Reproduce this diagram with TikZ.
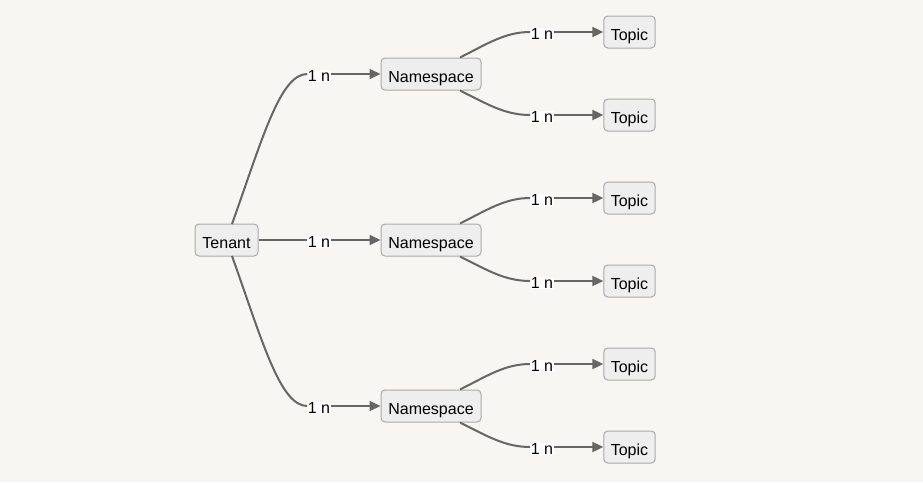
\documentclass[tikz,border=0pt]{standalone}
\usepackage{fontspec}
\setmainfont{Liberation Sans}
\usetikzlibrary{arrows.meta}
\definecolor{bg}{HTML}{F7F6F2}
\definecolor{boxfill}{HTML}{EEEEEE}
\definecolor{boxline}{HTML}{AAAAAA}
\definecolor{edge}{HTML}{666666}
\tikzset{
  box/.style={draw=boxline, fill=boxfill, rounded corners=4pt, line width=1pt,
    minimum height=32pt, inner xsep=7pt, inner ysep=0pt, font=\fontsize{16}{16}\selectfont, text depth=0pt, text height=17.5pt},
  lbl/.style={fill=white, inner sep=0.5pt, font=\fontsize{16}{16}\selectfont},
  conn/.style={draw=edge, line width=2pt},
  arr/.style={conn, -{Triangle[length=11pt,width=10pt]}},
}
\begin{document}
\begin{tikzpicture}[x=1pt,y=-1pt]
\fill[bg] (0,0) rectangle (923,482);
\useasboundingbox (0,0) rectangle (923,482);
% nodes
\node[box, minimum width=63pt] (t) at (226.5,240) {Tenant};
\node[box, minimum width=100pt] (n1) at (431,74) {Namespace};
\node[box, minimum width=100pt] (n2) at (431,240) {Namespace};
\node[box, minimum width=100pt] (n3) at (431,406) {Namespace};
\foreach \i/\y in {1/32,2/115,3/198,4/281,5/364,6/447}{
  \node[box, minimum width=51pt] (p\i) at (629.5,\y) {Topic};
}
% labels tenant->namespace
\node[lbl] (l1) at (319,76) {1 n};
\node[lbl] (l2) at (319,242) {1 n};
\node[lbl] (l3) at (319,408) {1 n};
% labels namespace->topic
\foreach \i/\y in {1/34,2/117,3/200,4/283,5/366,6/449}{
  \node[lbl] (m\i) at (542,\y) {1 n};
}
% tenant connectors
\coordinate (ta) at (232,224);
\coordinate (tb) at (232,256);
\draw[conn] (ta) .. controls (262,140) and (280,74) .. (l1.west |- 0,74);
\draw[arr] (l1.east |- 0,74) -- (n1.west);
\draw[conn] (t.east) -- (l2.west |- 0,240);
\draw[arr] (l2.east |- 0,240) -- (n2.west);
\draw[conn] (tb) .. controls (262,340) and (280,406) .. (l3.west |- 0,406);
\draw[arr] (l3.east |- 0,406) -- (n3.west);
% namespace connectors
\foreach \n/\a/\b/\ya/\yb in {n1/1/2/32/115, n2/3/4/198/281, n3/5/6/364/447}{
  \coordinate (\n u) at ([xshift=29pt]\n.north);
  \coordinate (\n d) at ([xshift=29pt]\n.south);
  \draw[conn] (\n u) .. controls ([xshift=28pt,yshift=14pt]\n u) and ([xshift=-25pt]m\a.west |- 0,\ya) .. (m\a.west |- 0,\ya);
  \draw[arr] (m\a.east |- 0,\ya) -- (p\a.west);
  \draw[conn] (\n d) .. controls ([xshift=28pt,yshift=-14pt]\n d) and ([xshift=-25pt]m\b.west |- 0,\yb) .. (m\b.west |- 0,\yb);
  \draw[arr] (m\b.east |- 0,\yb) -- (p\b.west);
}
\end{tikzpicture}
\end{document}
